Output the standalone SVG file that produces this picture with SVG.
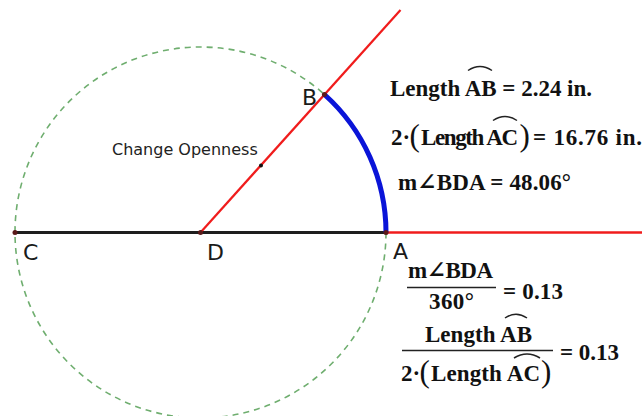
<svg xmlns="http://www.w3.org/2000/svg" width="642" height="416" viewBox="0 0 642 416">
<style>
.lbl{font-family:"DejaVu Sans","Liberation Sans",sans-serif;font-size:22px;fill:#1a1a1a}
.cap{font-family:"DejaVu Sans","Liberation Sans",sans-serif;font-size:16px;fill:#222}
.m{font-family:"Liberation Serif","DejaVu Serif",serif;font-size:23px;font-weight:bold;fill:#111}
.par{font-family:"Liberation Serif","DejaVu Serif",serif;font-size:31px;font-weight:normal;fill:#111}
.arc{fill:none;stroke:#222;stroke-width:1.5}
.bar{stroke:#222;stroke-width:1.6}
.pt{fill:#5a1a1a}
</style>
<rect width="642" height="416" fill="#ffffff"/>
<g id="figure">
<circle id="circle" cx="200.5" cy="232.5" r="185.5" fill="none" stroke="#6fae6f" stroke-width="1.6" stroke-dasharray="6 5"/>
<g id="connectors">
<line x1="15" y1="232.5" x2="386" y2="232.5" stroke="#1e1e1e" stroke-width="3"/>
<line x1="386" y1="232.5" x2="642" y2="232.5" stroke="#f01c1c" stroke-width="2.5"/>
<line x1="200.5" y1="232.5" x2="400.5" y2="10" stroke="#f01c1c" stroke-width="2.2"/>
<path d="M324.4 94.5 A185.5 185.5 0 0 1 386 232.5" fill="none" stroke="#0a14d8" stroke-width="5"/>
</g>
<g id="node-C"><circle class="pt" cx="15" cy="232.5" r="2.5"/><text class="lbl" x="23" y="260">C</text></g>
<g id="node-D"><circle class="pt" cx="200.5" cy="232.5" r="2.5"/><text class="lbl" x="207" y="260">D</text></g>
<g id="node-A"><circle class="pt" cx="386" cy="232.5" r="2.5"/><text class="lbl" x="393" y="259">A</text></g>
<g id="node-B"><circle class="pt" cx="324.4" cy="94.5" r="2.5"/><text class="lbl" x="302" y="105">B</text></g>
<g id="handle"><circle cx="261" cy="165.5" r="2" fill="#111"/><text class="cap" x="112" y="155">Change Openness</text></g>
</g>
<g id="measure-1">
<text class="m" x="390" y="96" textLength="202" lengthAdjust="spacing">Length AB = 2.24 in.</text>
<path class="arc" d="M468 70.5 Q480 62.5 492 70.5"/>
</g>
<g id="measure-2">
<text class="m" x="391" y="145">2·</text>
<text class="par" x="409.5" y="146">(</text>
<text class="m" x="421" y="145" textLength="97" lengthAdjust="spacing">Length AC</text>
<text class="par" x="519.5" y="146">)</text>
<text class="m" x="533" y="145" textLength="109" lengthAdjust="spacing">= 16.76 in.</text>
<path class="arc" d="M493 120.5 Q505 112.5 517 120.5"/>
</g>
<g id="measure-3">
<text class="m" x="398" y="190" textLength="173" lengthAdjust="spacing">m∠BDA = 48.06°</text>
</g>
<g id="ratio-1">
<text class="m" x="408" y="278" textLength="85" lengthAdjust="spacing">m∠BDA</text>
<line class="bar" x1="407" y1="287.5" x2="496" y2="287.5"/>
<text class="m" x="429" y="309" textLength="45" lengthAdjust="spacing">360°</text>
<text class="m" x="503" y="299" textLength="60" lengthAdjust="spacing">= 0.13</text>
</g>
<g id="ratio-2">
<text class="m" x="425" y="342" textLength="107" lengthAdjust="spacing">Length AB</text>
<path class="arc" d="M505 318 Q516 310.5 527 318"/>
<line class="bar" x1="402" y1="350.5" x2="553" y2="350.5"/>
<text class="m" x="401" y="381">2·</text>
<text class="par" x="419.5" y="382">(</text>
<text class="m" x="431" y="381" textLength="109" lengthAdjust="spacing">Length AC</text>
<text class="par" x="541" y="382">)</text>
<path class="arc" d="M514 358 Q527 350 540 358"/>
<text class="m" x="560" y="360" textLength="59" lengthAdjust="spacing">= 0.13</text>
</g>
</svg>
